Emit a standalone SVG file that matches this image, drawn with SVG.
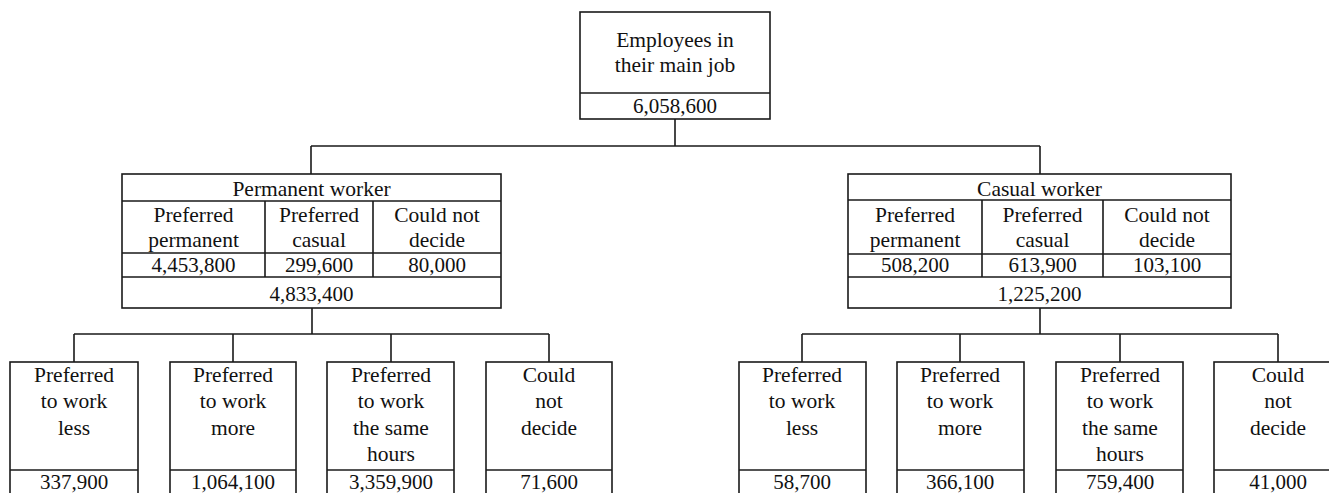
<svg xmlns="http://www.w3.org/2000/svg" width="1329" height="493" viewBox="0 0 1329 493">
<style>
.b{fill:#fff;stroke:#1a1a1a;stroke-width:1.6}
.l{fill:none;stroke:#1a1a1a;stroke-width:1.6}
text{font-family:"Liberation Serif","Times New Roman",serif;font-size:21.5px;fill:#111;text-anchor:middle}
.n{font-size:21px}
</style>
<rect width="1329" height="493" fill="#fff"/>
<g id="connectors" class="l">
<path class="l" d="M675,119V146M311,146H1040M311,146V174M1040,146V174"/>
<path class="l" d="M312,308V334M74,334H549M74,334V362M233,334V362M391,334V362M549,334V362"/>
<path class="l" d="M1040,308V334M802,334H1278M802,334V362M960,334V362M1120,334V362M1278,334V362"/>
</g>
<g id="root">
<rect class="b" x="580" y="12" width="190" height="107"/>
<line class="l" x1="580" y1="93" x2="770" y2="93"/>
<text x="675" y="47">Employees in</text>
<text x="675" y="72">their main job</text>
<text class="n" x="675" y="113">6,058,600</text>
</g>
<g id="permanent">
<rect class="b" x="122" y="174" width="379" height="134"/>
<path class="l" d="M122,201H501M122,253H501M122,277H501M265,201V277M373,201V277"/>
<text x="311.5" y="196">Permanent worker</text>
<text x="193.5" y="222">Preferred</text><text x="193.5" y="247">permanent</text>
<text x="319" y="222">Preferred</text><text x="319" y="247">casual</text>
<text x="437" y="222">Could not</text><text x="437" y="247">decide</text>
<text class="n" x="193.5" y="272">4,453,800</text>
<text class="n" x="319" y="272">299,600</text>
<text class="n" x="437" y="272">80,000</text>
<text class="n" x="311.5" y="301">4,833,400</text>
</g>
<g id="casual">
<rect class="b" x="848" y="174" width="383" height="134"/>
<path class="l" d="M848,200H1231M848,254H1231M848,277H1231M982,200V277M1103,200V277"/>
<text x="1039.5" y="196">Casual worker</text>
<text x="915" y="222">Preferred</text><text x="915" y="247">permanent</text>
<text x="1042.5" y="222">Preferred</text><text x="1042.5" y="247">casual</text>
<text x="1167" y="222">Could not</text><text x="1167" y="247">decide</text>
<text class="n" x="915" y="272">508,200</text>
<text class="n" x="1042.5" y="272">613,900</text>
<text class="n" x="1167" y="272">103,100</text>
<text class="n" x="1039.5" y="301">1,225,200</text>
</g>
<g id="p-less">
<rect class="b" x="10" y="362" width="128" height="140"/><line class="l" x1="10" y1="470" x2="138" y2="470"/>
<text x="74" y="382">Preferred</text><text x="74" y="408">to work</text><text x="74" y="435">less</text>
<text class="n" x="74" y="489">337,900</text>
</g>
<g id="p-more">
<rect class="b" x="170" y="362" width="126" height="140"/><line class="l" x1="170" y1="470" x2="296" y2="470"/>
<text x="233" y="382">Preferred</text><text x="233" y="408">to work</text><text x="233" y="435">more</text>
<text class="n" x="233" y="489">1,064,100</text>
</g>
<g id="p-same">
<rect class="b" x="327" y="362" width="127" height="140"/><line class="l" x1="327" y1="470" x2="454" y2="470"/>
<text x="391" y="382">Preferred</text><text x="391" y="408">to work</text><text x="391" y="435">the same</text><text x="391" y="461">hours</text>
<text class="n" x="391" y="489">3,359,900</text>
</g>
<g id="p-undecided">
<rect class="b" x="486" y="362" width="126" height="140"/><line class="l" x1="486" y1="470" x2="612" y2="470"/>
<text x="549" y="382">Could</text><text x="549" y="408">not</text><text x="549" y="435">decide</text>
<text class="n" x="549" y="489">71,600</text>
</g>
<g id="c-less">
<rect class="b" x="739" y="362" width="127" height="140"/><line class="l" x1="739" y1="470" x2="866" y2="470"/>
<text x="802" y="382">Preferred</text><text x="802" y="408">to work</text><text x="802" y="435">less</text>
<text class="n" x="802" y="489">58,700</text>
</g>
<g id="c-more">
<rect class="b" x="897" y="362" width="127" height="140"/><line class="l" x1="897" y1="470" x2="1024" y2="470"/>
<text x="960" y="382">Preferred</text><text x="960" y="408">to work</text><text x="960" y="435">more</text>
<text class="n" x="960" y="489">366,100</text>
</g>
<g id="c-same">
<rect class="b" x="1056" y="362" width="127" height="140"/><line class="l" x1="1056" y1="470" x2="1183" y2="470"/>
<text x="1120" y="382">Preferred</text><text x="1120" y="408">to work</text><text x="1120" y="435">the same</text><text x="1120" y="461">hours</text>
<text class="n" x="1120" y="489">759,400</text>
</g>
<g id="c-undecided">
<rect class="b" x="1214" y="362" width="127" height="140"/><line class="l" x1="1214" y1="470" x2="1341" y2="470"/>
<text x="1278" y="382">Could</text><text x="1278" y="408">not</text><text x="1278" y="435">decide</text>
<text class="n" x="1278" y="489">41,000</text>
</g>
</svg>
